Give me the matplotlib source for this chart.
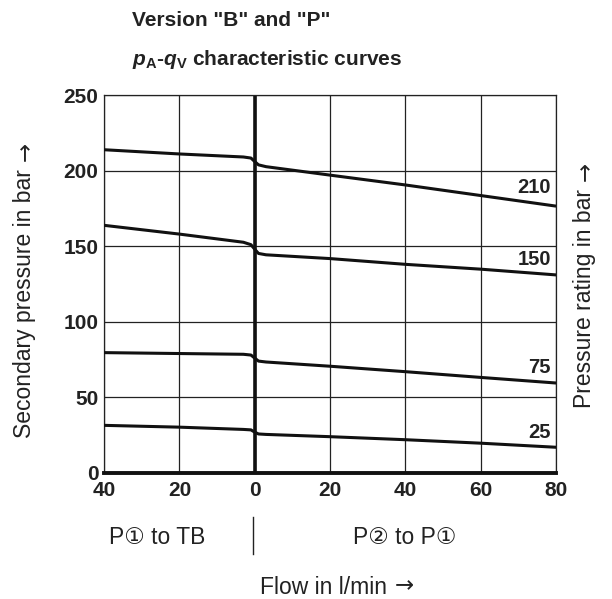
import matplotlib
matplotlib.use("Agg")
from matplotlib import pyplot as plt
from matplotlib import font_manager

# data
flow = [-40, -20, -3, -1, 0, 1, 3, 20, 40, 60, 80]
p_210 = [213.8, 211.0, 209.0, 208.3, 206.0, 203.8, 202.6, 197.0, 190.5, 183.5, 176.5]
p_150 = [163.8, 158.0, 152.6, 151.0, 148.0, 145.2, 144.3, 141.8, 138.0, 134.8, 131.0]
p_75 = [79.6, 79.0, 78.5, 78.0, 76.0, 74.0, 73.4, 70.6, 67.0, 63.2, 59.5]
p_25 = [31.5, 30.3, 28.8, 28.5, 27.0, 25.8, 25.5, 24.0, 22.0, 19.7, 17.0]
ratings = ["210", "150", "75", "25"]
label_y = [189, 141, 70, 27]
x_ticks = [-40, -20, 0, 20, 40, 60, 80]
y_ticks = [0, 50, 100, 150, 200, 250]

names = {f.name for f in font_manager.fontManager.ttflist}
narrow = "Liberation Sans Narrow" if "Liberation Sans Narrow" in names else "Liberation Sans"
plt.rcParams["font.family"] = ["Liberation Sans", "DejaVu Sans"]
plt.rcParams["mathtext.fontset"] = "custom"
plt.rcParams["mathtext.rm"] = "Liberation Sans:bold"
plt.rcParams["mathtext.it"] = "Liberation Sans:italic:bold"

W, H = 612, 599
fig = plt.figure(figsize=(W / 100, H / 100), dpi=100)
ax = fig.add_axes([0.170, 0.2104, 0.7386, 0.631])

for ys in (p_210, p_150, p_75, p_25):
    ax.plot(flow, ys, color="#111111", lw=2.2, solid_capstyle="butt", zorder=3)

for txt, y in zip(ratings, label_y):
    ax.text(78.6, y, txt, ha="right", va="center", fontsize=14.5,
            fontweight="bold", family=narrow, color="#222222")

tick_font = dict(fontsize=15, fontweight="bold", family=narrow, color="#222222")
ax.set_xlim(-40, 80)
ax.set_ylim(0, 250)
ax.set_xticks(x_ticks)
ax.set_xticklabels([str(abs(v)) for v in x_ticks], **tick_font)
ax.set_yticks(y_ticks)
ax.set_yticklabels([str(v) for v in y_ticks], **tick_font)
ax.tick_params(axis="x", length=0, pad=6)
ax.tick_params(axis="y", length=0, pad=4)

ax.grid(True, color="#222222", lw=0.9)
ax.axvline(0, color="#111111", lw=2.6, zorder=2)
for s in ("top", "right", "left"):
    ax.spines[s].set_linewidth(0.9)
    ax.spines[s].set_color("#222222")
ax.spines["bottom"].set_linewidth(2.8)
ax.spines["bottom"].set_color("#111111")

fig.text(0.216, 0.966, 'Version "B" and "P"', fontsize=15, fontweight="bold",
         va="center", color="#222222")
fig.text(0.216, 0.9, r'$\mathit{p}_\mathrm{A}$-$\mathit{q}_\mathrm{V}$ characteristic curves',
         fontsize=15, fontweight="bold", va="center", color="#222222")

fig.text(0.2565, 0.102, "P\u2460 to TB", fontsize=16.5, ha="center", va="center", color="#222222")
fig.text(0.662, 0.102, "P\u2461 to P\u2460", fontsize=16.5, ha="center", va="center", color="#222222")
fig.add_artist(plt.Line2D([0.413, 0.413], [0.075, 0.137], color="#222222", lw=1))

# axis titles: words in Liberation Sans, arrow in DejaVu Sans placed after them
lab_kw = dict(fontsize=16.5, color="#222222")
renderer = fig.canvas.get_renderer()


def label_with_arrow(text, cx, cy, vertical, gap=8):
    rot = 90 if vertical else 0
    t = fig.text(0, 0, text, rotation=rot, ha="left", va="bottom", **lab_kw)
    a = fig.text(0, 0, "\u2192", rotation=rot, ha="left", va="bottom",
                 family="DejaVu Sans", **lab_kw)
    bt = t.get_window_extent(renderer)
    ba = a.get_window_extent(renderer)
    if vertical:
        total = bt.height + gap + ba.height
        y0 = cy - total / 2
        t.set_position(((cx - bt.width / 2) / W, y0 / H))
        a.set_position(((cx - ba.width / 2) / W, (y0 + bt.height + gap) / H))
    else:
        total = bt.width + gap + ba.width
        x0 = cx - total / 2
        t.set_position((x0 / W, (cy - bt.height / 2) / H))
        a.set_position(((x0 + bt.width + gap) / W, (cy - ba.height / 2 + 1) / H))


label_with_arrow("Secondary pressure in bar", 25, H - 290, True)
label_with_arrow("Pressure rating in bar", 585, H - 285, True)
label_with_arrow("Flow in l/min", 337, H - 587, False)

fig.savefig("out.png", dpi=100)
